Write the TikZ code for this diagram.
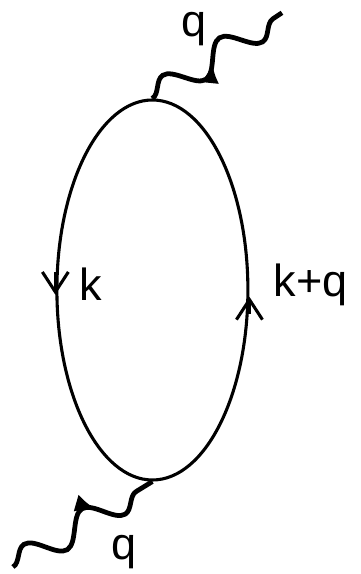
\documentclass[tikz,border=0pt]{standalone}
\usepackage{fontspec}
\setmainfont{Liberation Sans}
\usetikzlibrary{shapes.geometric, arrows.meta, positioning, decorations.pathmorphing, decorations.markings}

\begin{document}
\begin{tikzpicture}

% Define styles
\tikzstyle{loopline} = [ellipse, draw, line width=2.2pt, minimum width=4.775cm, minimum height=9.5cm, inner sep=0pt]
\tikzstyle{photon} = [line width=3.4pt, decorate, decoration={snake, segment length=1.7cm, amplitude=0.34cm}]
\tikzstyle{fermarrow} = [line width=2.2pt, -{Straight Barb[length=0.5cm, width=0.65cm]}]
\tikzstyle{lbl} = [inner sep=0pt, font=\fontsize{32}{38}\selectfont]

\useasboundingbox (0,0) rectangle (9,14.35);

% Nodes
\node (loop) [loopline] at (3.81,7.1) {};
\coordinate (qout) at (7.05,14.03);
\coordinate (qin) at (0.325,0.175);
\node (k) [lbl, right=0.6cm of loop.west, yshift=0.15cm] {k};
\node (kq) [lbl, right=0.6cm of loop.east, yshift=0.12cm] {k+q};
\node (qtop) [lbl, above right=1.3cm and 0.71cm of loop.north] {q};
\node (qbot) [lbl, below left=1.33cm and 0.39cm of loop.south] {q};

% Fermion arrows
\draw [fermarrow] ([yshift=0.45cm]loop.west) -- ([yshift=-0.12cm]loop.west);
\draw [fermarrow] ([yshift=-0.6cm]loop.east) -- ([yshift=-0.17cm]loop.east);

% Photons
\draw [photon, postaction={draw=none, decorate, decoration={markings, mark=at position 0.45 with {\arrow{Latex[length=0.5cm, width=0.45cm]}}}}] (loop.north) -- (qout);
\draw [photon, postaction={draw=none, decorate, decoration={markings, mark=at position 0.63 with {\arrow{Latex[length=0.5cm, width=0.45cm]}}}}] (qin) -- (loop.south);

\end{tikzpicture}
\end{document}
